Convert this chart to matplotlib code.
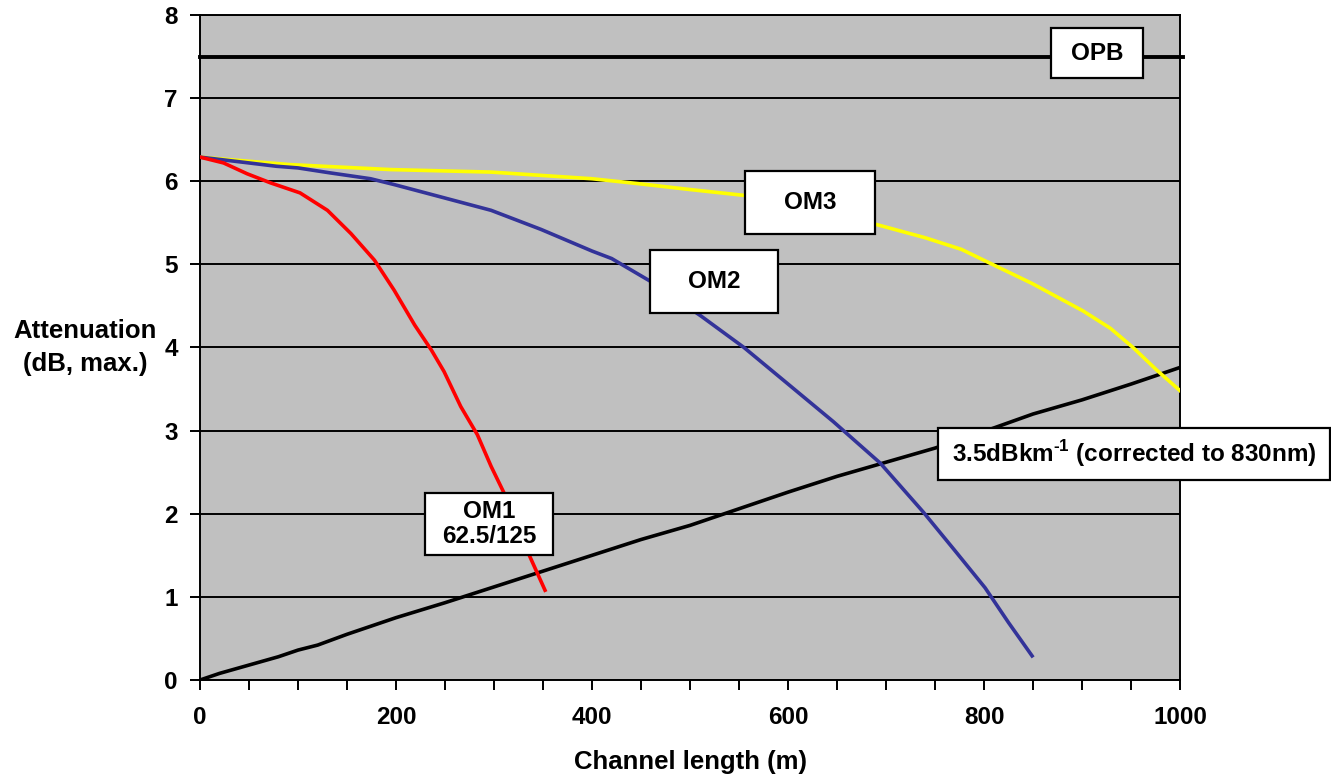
#!/usr/bin/env python

"""Attenuation vs channel length for OM1/OM2/OM3 fibre."""

import matplotlib.pyplot as plt
from matplotlib.patches import Rectangle

plt.rcParams['font.family'] = ['Liberation Sans', 'DejaVu Sans']
plt.rcParams['font.weight'] = 'bold'
plt.rcParams['mathtext.fontset'] = 'custom'
plt.rcParams['mathtext.rm'] = 'Liberation Sans:bold'
plt.rcParams['mathtext.bf'] = 'Liberation Sans:bold'

# channel length (m) and max. attenuation (dB)
om1_x = [0, 24, 48, 72, 102, 130, 154, 178, 198, 219, 236, 249, 266, 283, 297, 311, 331, 352]
om1_y = [6.29, 6.22, 6.09, 5.98, 5.86, 5.65, 5.37, 5.05, 4.69, 4.27, 3.97, 3.71, 3.29, 2.95,
         2.57, 2.23, 1.63, 1.08]

om2_x = [0, 50, 78, 100, 133, 174, 198, 246, 297, 348, 400, 420, 459, 511, 555, 599, 646,
         694, 738, 770, 801, 825, 849]
om2_y = [6.29, 6.22, 6.18, 6.16, 6.10, 6.03, 5.96, 5.81, 5.65, 5.42, 5.16, 5.07, 4.80, 4.38,
         4.00, 3.57, 3.11, 2.61, 2.02, 1.56, 1.11, 0.69, 0.29]

om3_x = [0, 50, 92, 126, 195, 297, 400, 448, 500, 555, 600, 650, 690, 740, 777, 805, 849,
         901, 929, 952, 976, 1000]
om3_y = [6.29, 6.24, 6.20, 6.18, 6.14, 6.11, 6.03, 5.97, 5.90, 5.83, 5.75, 5.62, 5.48, 5.32,
         5.18, 5.02, 4.77, 4.44, 4.23, 4.00, 3.73, 3.48]

loss_x = [0, 20, 50, 80, 100, 120, 150, 200, 250, 300, 350, 400, 450, 500, 550, 600, 650,
          700, 750, 800, 850, 900, 950, 1000]
loss_y = [0, 0.08, 0.18, 0.28, 0.36, 0.42, 0.55, 0.75, 0.93, 1.12, 1.31, 1.50, 1.69, 1.86,
          2.06, 2.26, 2.45, 2.62, 2.79, 2.99, 3.20, 3.37, 3.56, 3.76]

opb_x = [0, 1003]
opb_y = [7.5, 7.5]

fig = plt.figure(figsize=(13.31, 7.8), dpi=100)
ax = fig.add_axes([0.1503, 0.1282, 0.7363, 0.8526])
ax.set_facecolor('#c0c0c0')

ax.plot(opb_x, opb_y, color='black', lw=2.8, clip_on=False, zorder=3)
ax.plot(loss_x, loss_y, color='black', lw=2.6, zorder=3)
ax.plot(om3_x, om3_y, color='#ffff00', lw=2.6, zorder=3)
ax.plot(om2_x, om2_y, color='#333399', lw=2.6, zorder=3)
ax.plot(om1_x, om1_y, color='#ff0000', lw=2.6, zorder=3)

ax.set_xlim(0, 1000)
ax.set_ylim(0, 8)
ax.set_xticks(range(0, 1001, 200))
ax.set_xticks(range(0, 1001, 50), minor=True)
ax.set_yticks(range(0, 9))
ax.grid(axis='y', color='black', lw=1.4, zorder=1)
ax.set_axisbelow(True)
ax.tick_params(which='both', direction='out', length=7, width=1.4, labelsize=17.5)
ax.tick_params(axis='x', pad=12)
ax.tick_params(axis='y', pad=9)
for s in ax.spines.values():
    s.set_linewidth(1.4)

ax.set_xlabel('Channel length (m)', fontsize=18.5, fontweight='bold', va='center')
ax.xaxis.set_label_coords(0.5, -0.123)
ax.set_ylabel('Attenuation\n(dB, max.)', fontsize=18.5, fontweight='bold', rotation=0,
              ha='center', va='center', linespacing=1.45)
ax.yaxis.set_label_coords(-0.117, 0.50)


def label(x0, x1, y0, y1, text):
    ax.add_patch(Rectangle((x0, y0), x1 - x0, y1 - y0, facecolor='white', edgecolor='black',
                           lw=1.6, zorder=5, clip_on=False))
    ax.text((x0 + x1) / 2, (y0 + y1) / 2, text, ha='center', va='center', fontsize=17.5,
            fontweight='bold', zorder=6, linespacing=1.15)


label(868, 962, 7.24, 7.84, 'OPB')
label(556, 689, 5.36, 6.12, 'OM3')
label(459, 590, 4.41, 5.17, 'OM2')
label(230, 360, 1.50, 2.25, 'OM1\n62.5/125')
label(753, 1153, 2.41, 3.03, r'3.5dBkm$^{\text{-1}}$ (corrected to 830nm)')

fig.savefig('out.png', dpi=100)
